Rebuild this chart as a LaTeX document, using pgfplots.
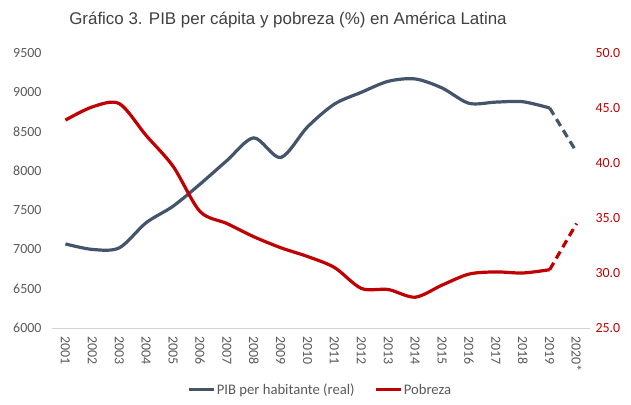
\documentclass[border=0pt]{standalone}
\usepackage{pgfplots}
\pgfplotsset{compat=1.18}
\usepackage{fontspec}
\setmainfont{Carlito}
\newfontfamily\arialf{Liberation Sans}
\definecolor{pib}{HTML}{44546A}
\definecolor{pob}{HTML}{C00000}
\definecolor{tickgray}{HTML}{595959}
\definecolor{titlegray}{HTML}{404040}

\pgfplotstableread{
x y
1 7070
2 7000
3 7020
4 7340
5 7550
6 7830
7 8130
8 8420
9 8170
10 8560
11 8850
12 9000
13 9140
14 9170
15 9055
16 8860
17 8875
18 8880
19 8800
}\pibsolid
\pgfplotstableread{
x y
19 8800
20 8240
}\pibdash
\pgfplotstableread{
x y
1 43.9
2 45.1
3 45.4
4 42.5
5 39.7
6 35.6
7 34.5
8 33.3
9 32.3
10 31.5
11 30.5
12 28.6
13 28.5
14 27.8
15 28.9
16 29.9
17 30.1
18 30.0
19 30.3
}\pobsolid
\pgfplotstableread{
x y
19 30.3
20 34.5
}\pobdash

\begin{document}
\begin{tikzpicture}[x=1bp,y=1bp]
\path[use as bounding box] (0,0) rectangle (631,404);
\node[font=\arialf\fontsize{17}{18}\selectfont, text=titlegray] at (288,384) {Gráfico 3. PIB per cápita y pobreza (\%) en América Latina};

\begin{axis}[
  at={(52bp,76bp)}, anchor=south west,
  scale only axis, width=538bp, height=275bp,
  xmin=0.5, xmax=20.5, ymin=6000, ymax=9500,
  ytick={6000,6500,7000,7500,8000,8500,9000,9500},
  axis y line*=left, axis x line*=bottom,
  x axis line style={draw=gray!35, line width=0.8bp, -},
  y axis line style={draw=none},
  major tick length=0pt,
  xtick={1,...,20},
  xticklabels={2001,2002,2003,2004,2005,2006,2007,2008,2009,2010,2011,2012,2013,2014,2015,2016,2017,2018,2019,2020*},
  x tick label style={rotate=-90, anchor=west, font=\fontsize{14}{14}\selectfont, text=tickgray, xshift=5bp},
  y tick label style={font=\fontsize{14}{14}\selectfont, text=tickgray, xshift=-7bp},
  /pgf/number format/assume math mode=true,
  yticklabel style={/pgf/number format/1000 sep={}},
  clip=false,
]
\addplot[pib, line width=3.2bp, smooth, tension=0.5] table {\pibsolid};
\addplot[pib, line width=3.2bp, dash pattern=on 8bp off 5bp] table {\pibdash};
\end{axis}

\begin{axis}[
  at={(52bp,76bp)}, anchor=south west,
  scale only axis, width=538bp, height=275bp,
  xmin=0.5, xmax=20.5, ymin=25, ymax=50,
  ytick={25,30,35,40,45,50},
  axis y line*=right, axis x line=none,
  y axis line style={draw=none},
  major tick length=0pt,
  y tick label style={font=\fontsize{14}{14}\selectfont, text=pob, xshift=2bp, /pgf/number format/fixed, /pgf/number format/precision=1, /pgf/number format/fixed zerofill},
  /pgf/number format/assume math mode=true,
  clip=false,
  legend style={at={(0.498,-0.225)}, anchor=center, draw=none, fill=none,
    legend columns=2, font=\fontsize{14.7}{15}\selectfont, text=tickgray,
    /tikz/every even column/.append style={column sep=18bp},
    nodes={inner xsep=1.5bp}, inner sep=0pt, legend cell align=left},
  legend image code/.code={\draw[#1] (0bp,0bp) -- (25bp,0bp);},
]
\addlegendimage{pib, line width=3.2bp}
\addlegendentry{PIB per habitante (real)}
\addplot[pob, line width=3.2bp, smooth, tension=0.5] table {\pobsolid};
\addlegendentry{Pobreza}
\addplot[pob, line width=3.2bp, dash pattern=on 8bp off 5bp, forget plot] table {\pobdash};
\end{axis}
\end{tikzpicture}
\end{document}
